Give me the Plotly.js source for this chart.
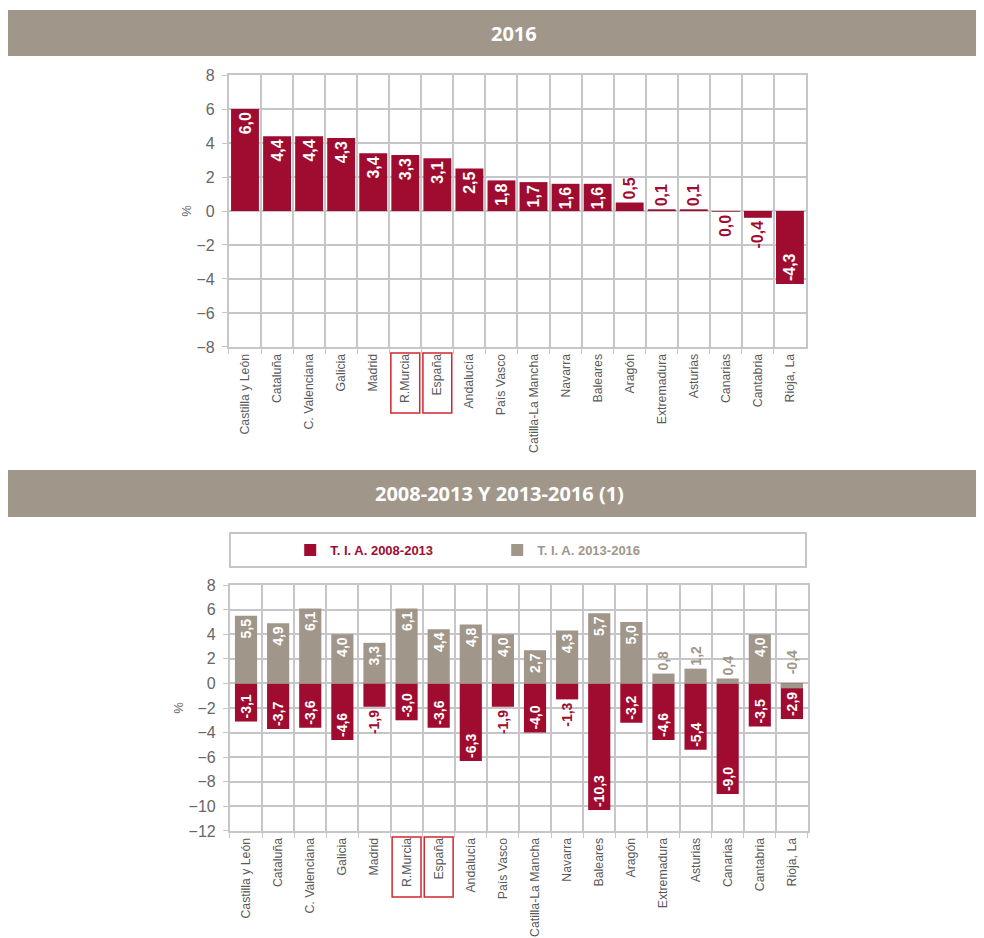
<!DOCTYPE html>
<html>
<head>
<meta charset="utf-8">
<script src="https://cdn.plot.ly/plotly-3.0.1.min.js"></script>
<style>html,body{margin:0;padding:0;background:#fff;}#chart{width:984px;height:938px;}</style>
</head>
<body>
<div id="chart"></div>
<script>
// ---- data ----
const regions = ["Castilla y León","Cataluña","C. Valenciana","Galicia","Madrid","R.Murcia","España","Andalucía","País Vasco","Catilla-La Mancha","Navarra","Baleares","Aragón","Extremadura","Asturias","Canarias","Cantabria","Rioja, La"];
const growth2016 = [6.0,4.4,4.4,4.3,3.4,3.3,3.1,2.5,1.8,1.7,1.6,1.6,0.5,0.1,0.1,-0.04,-0.4,-4.3];
const tia0813 = [-3.1,-3.7,-3.6,-4.6,-1.9,-3.0,-3.6,-6.3,-1.9,-4.0,-1.3,-10.3,-3.2,-4.6,-5.4,-9.0,-3.5,-2.9];
const tia1316 = [5.5,4.9,6.1,4.0,3.3,6.1,4.4,4.8,4.0,2.7,4.3,5.7,5.0,0.8,1.2,0.4,4.0,-0.4];
const highlighted = ["R.Murcia","España"];
const header1 = "2016";
const header2 = "2008-2013 Y 2013-2016 (1)";
const name1 = "T. I. A. 2008-2013";
const name2 = "T. I. A. 2013-2016";

// ---- styles ----
const RED = "#a00c30";
const GREY = "#a0968a";
const GRID = "#c6c6c8";
const FONT = "Liberation Sans, Arial, sans-serif";

function fmt(v){ let s = v.toFixed(1); if (s === "-0.0") s = "0.0"; return s.replace(".", ","); }

const traces = [
  {
    type: "bar", x: regions, y: growth2016, xaxis: "x", yaxis: "y",
    marker: {color: RED}, width: 0.87, showlegend: false,
    text: growth2016.map(fmt), textangle: -90, cliponaxis: false,
    textposition: growth2016.map(v => Math.abs(v) >= 1 ? "inside" : "outside"),
    insidetextanchor: "end", constraintext: "none",
    insidetextfont: {family: FONT, size: 16, color: "#ffffff", weight: "bold"},
    outsidetextfont: {family: FONT, size: 16, color: RED, weight: "bold"},
    hoverinfo: "x+y"
  },
  {
    type: "bar", x: regions, y: tia0813, xaxis: "x2", yaxis: "y2",
    name: '<span style="color:' + RED + '">' + name1 + '</span>',
    marker: {color: RED}, width: 0.69,
    text: tia0813.map(fmt), textangle: -90, cliponaxis: false,
    textposition: tia0813.map(v => Math.abs(v) >= 2 ? "inside" : "outside"),
    insidetextanchor: "end", constraintext: "none",
    insidetextfont: {family: FONT, size: 14, color: "#ffffff", weight: "bold"},
    outsidetextfont: {family: FONT, size: 14, color: RED, weight: "bold"}
  },
  {
    type: "bar", x: regions, y: tia1316, xaxis: "x2", yaxis: "y2",
    name: '<span style="color:' + GREY + '">' + name2 + '</span>',
    marker: {color: GREY}, width: 0.69,
    text: tia1316.map(v => v < 0 ? "" : fmt(v)), textangle: -90, cliponaxis: false,
    textposition: tia1316.map(v => Math.abs(v) >= 2 ? "inside" : "outside"),
    insidetextanchor: "end", constraintext: "none",
    insidetextfont: {family: FONT, size: 14, color: "#ffffff", weight: "bold"},
    outsidetextfont: {family: FONT, size: 14, color: GREY, weight: "bold"}
  }
];

function xax(domain, anchor){
  return {
    domain: domain, anchor: anchor, type: "category", tickson: "boundaries",
    showgrid: true, gridcolor: GRID, gridwidth: 2,
    showline: true, mirror: true, linecolor: GRID, linewidth: 2,
    ticks: "outside", ticklen: 5, tickcolor: GRID, tickwidth: 1,
    tickangle: -90, tickfont: {family: FONT, size: 12.3, color: "#595959"},
    fixedrange: true
  };
}
function yax(domain, anchor, range){
  return {
    domain: domain, anchor: anchor, range: range, dtick: 2,
    showgrid: true, gridcolor: GRID, gridwidth: 2, zeroline: false,
    showline: true, mirror: true, linecolor: GRID, linewidth: 2,
    ticks: "outside", ticklen: 5, tickcolor: GRID, ticklabelstandoff: 4,
    tickfont: {family: FONT, size: 16, color: "#666666"},
    title: {text: "%", font: {family: FONT, size: 13, color: "#666666"}, standoff: 2},
    fixedrange: true
  };
}

const shapes = [
  {type: "rect", xref: "paper", yref: "paper", x0: 0.0081, x1: 0.9919, y0: 0.9403, y1: 0.9893, fillcolor: GREY, line: {width: 0}, layer: "below"},
  {type: "rect", xref: "paper", yref: "paper", x0: 0.0081, x1: 0.9919, y0: 0.4488, y1: 0.4989, fillcolor: GREY, line: {width: 0}, layer: "below"},
  {type: "rect", xref: "paper", yref: "paper", x0: 0.2337, x1: 0.8191, y0: 0.3955, y1: 0.4318, fillcolor: "rgba(0,0,0,0)", line: {color: GRID, width: 2}}
];
highlighted.forEach(h => {
  const i = regions.indexOf(h);
  shapes.push({type: "rect", xref: "x", yref: "paper", x0: i - 0.45, x1: i + 0.45, y0: 0.5597, y1: 0.6237, line: {color: "#d0282e", width: 1.5}});
  shapes.push({type: "rect", xref: "x2", yref: "paper", x0: i - 0.45, x1: i + 0.45, y0: 0.0437, y1: 0.1077, line: {color: "#d0282e", width: 1.5}});
});

const annotations = [
  {xref: "paper", yref: "paper", x: 0.5224, y: 0.9648, xanchor: "center", yanchor: "middle", text: "<b>" + header1 + "</b>", showarrow: false, font: {family: "Open Sans", size: 20, color: "#ffffff"}},
  {xref: "paper", yref: "paper", x: 0.508, y: 0.4744, xanchor: "center", yanchor: "middle", text: "<b>" + header2 + "</b>", showarrow: false, font: {family: "Open Sans", size: 20, color: "#ffffff"}}
];
tia1316.forEach((v, i) => {
  if (v < 0) annotations.push({xref: "x2", yref: "y2", x: regions[i], y: 0, yshift: 21, text: "<b>" + fmt(v) + "</b>", textangle: -90, showarrow: false, font: {family: FONT, size: 14, color: GREY}});
});

const layout = {
  width: 984, height: 938, margin: {l: 0, r: 0, t: 0, b: 0},
  paper_bgcolor: "#ffffff", plot_bgcolor: "#ffffff",
  barmode: "overlay",
  xaxis: xax([0.2327, 0.8191], "y"),
  yaxis: yax([0.6301, 0.9200], "x", [-8, 8]),
  xaxis2: xax([0.2337, 0.8211], "y2"),
  yaxis2: yax([0.1141, 0.3763], "x2", [-12, 8]),
  showlegend: true,
  legend: {orientation: "h", x: 0.5053, xanchor: "center", y: 0.4136, yanchor: "middle",
           font: {family: FONT, size: 13, weight: "bold"}, bgcolor: "rgba(0,0,0,0)",
           entrywidth: 162, entrywidthmode: "pixels", itemwidth: 30, traceorder: "normal"},
  shapes: shapes, annotations: annotations
};

Plotly.newPlot("chart", traces, layout, {staticPlot: true, displayModeBar: false});
</script>
</body>
</html>
